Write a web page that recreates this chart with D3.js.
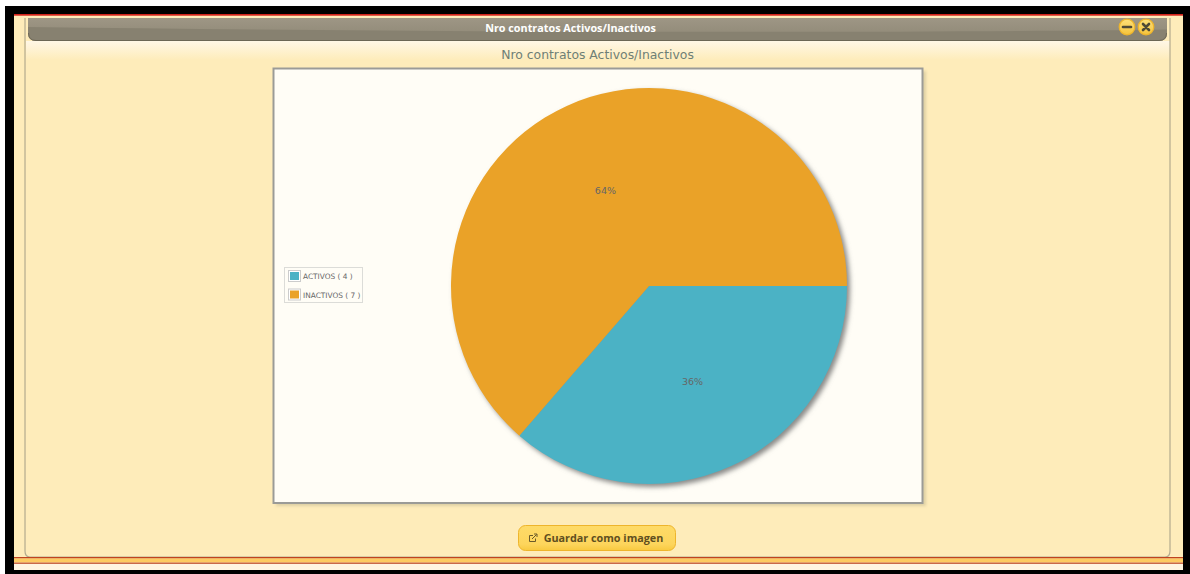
<!DOCTYPE html>
<html lang="es">
<head>
<meta charset="utf-8">
<title>Nro contratos Activos/Inactivos</title>
<script src="https://cdn.jsdelivr.net/npm/d3@7/dist/d3.min.js"></script>
<style>
html,body{margin:0;padding:0;background:#fff;overflow:hidden}
svg{display:block}
</style>
</head>
<body>
<svg id="chart" width="1190" height="574"></svg>
<script>
const categories = ["ACTIVOS", "INACTIVOS"];
const contractCounts = [4, 7];
const sliceColors = ["#4bb2c5", "#eaa228"];
const panelTitle = "Nro contratos Activos/Inactivos";
const buttonLabel = "Guardar como imagen";

const svg = d3.select("#chart");
const defs = svg.append("defs");
const fontBody = "'DejaVu Sans', Verdana, sans-serif";
const fontUi = "'Open Sans', 'DejaVu Sans', sans-serif";

function linear(id, stops, x1 = 0, y1 = 0, x2 = 0, y2 = 1) {
  const g = defs.append("linearGradient").attr("id", id)
    .attr("x1", x1).attr("y1", y1).attr("x2", x2).attr("y2", y2);
  stops.forEach(([o, c]) => g.append("stop").attr("offset", o).attr("stop-color", c));
}
linear("glow", [[0, "#fff7e6"], [1, "#feecba"]]);
linear("btn", [[0, "#fedb68"], [0.75, "#fdd55c"], [1, "#f8c93f"]]);
linear("knob", [[0, "#fde07a"], [1, "#f5c33b"]]);
linear("sheen", [[0, "#9e9685"], [1, "#948d7b"]]);
defs.append("filter").attr("id", "soft").attr("x", "-10%").attr("y", "-10%").attr("width", "120%").attr("height", "120%")
  .append("feGaussianBlur").attr("stdDeviation", 1.6);
defs.append("filter").attr("id", "pieBlur").attr("x", "-10%").attr("y", "-10%").attr("width", "120%").attr("height", "120%")
  .append("feGaussianBlur").attr("stdDeviation", 2.4);

// page frame and panel ground
svg.append("rect").attr("x", 5).attr("y", 6).attr("width", 1185).attr("height", 568).attr("fill", "#000");
svg.append("rect").attr("x", 14).attr("y", 14).attr("width", 1169).attr("height", 556).attr("fill", "#feecba");
svg.append("rect").attr("x", 14).attr("y", 14).attr("width", 1169).attr("height", 1.7).attr("fill", "#d2231c");
svg.append("rect").attr("x", 26).attr("y", 41).attr("width", 1144).attr("height", 19).attr("fill", "url(#glow)");

// inner window outline
svg.append("path")
  .attr("d", "M25,18V551Q25,557 30,557H1165Q1170,557 1170,551V18")
  .attr("fill", "none").attr("stroke", "#b3ab8e").attr("stroke-width", 1.2);

// bottom stripes
svg.append("rect").attr("x", 14).attr("y", 557).attr("width", 1169).attr("height", 1.5).attr("fill", "#c0441f");
svg.append("rect").attr("x", 14).attr("y", 558.5).attr("width", 1169).attr("height", 4).attr("fill", "#fdcb62");
svg.append("rect").attr("x", 14).attr("y", 562.5).attr("width", 1169).attr("height", 1.5).attr("fill", "#c9694a");
svg.append("rect").attr("x", 14).attr("y", 564).attr("width", 1169).attr("height", 6).attr("fill", "#fff5e2");

// title bar with its slanted sheen
svg.append("path")
  .attr("d", "M28,18H1167V33Q1167,41 1159,41H36Q28,41 28,33Z")
  .attr("fill", "#878170");
svg.append("path")
  .attr("d", "M28,18H1167V29.5C900,33 500,33 28,27Z")
  .attr("fill", "url(#sheen)");
svg.append("path")
  .attr("d", "M28.5,33Q28.5,40.5 36,40.5H1159Q1166.5,40.5 1166.5,33")
  .attr("fill", "none").attr("stroke", "#6b6655").attr("stroke-width", 1);
svg.append("text").attr("x", 570.5).attr("y", 32).attr("text-anchor", "middle")
  .attr("font-family", fontUi).attr("font-weight", 700).attr("font-size", 10.8)
  .attr("fill", "#fff").text(panelTitle);

// minimise and close knobs
[[1127, "M-4,0H4"], [1146, "M-3,-3L3,3M3,-3L-3,3"]].forEach(([x, glyph]) => {
  const k = svg.append("g").attr("transform", `translate(${x},27)`);
  k.append("circle").attr("r", 7.8).attr("fill", "url(#knob)").attr("stroke", "#eeb52c").attr("stroke-width", 1.2);
  k.append("path").attr("d", glyph).attr("stroke", "#4f4a36").attr("stroke-width", 2.6)
    .attr("stroke-linecap", "round").attr("fill", "none");
});

// chart heading
svg.append("text").attr("x", 597.5).attr("y", 58.5).attr("text-anchor", "middle")
  .attr("font-family", fontBody).attr("font-size", 12.4).attr("fill", "#6f7f76").text(panelTitle);

// plot box
svg.append("rect").attr("x", 276).attr("y", 71).attr("width", 650).attr("height", 435)
  .attr("fill", "#c9bd96").attr("opacity", 0.6).attr("filter", "url(#soft)");
svg.append("rect").attr("x", 273.5).attr("y", 68.5).attr("width", 649).attr("height", 434.5)
  .attr("fill", "#fffdf6").attr("stroke", "#9b9b97").attr("stroke-width", 2);

// pie, clockwise from three o'clock
const cx = 649, cy = 286, radius = 198;
const pie = d3.pie().sort(null).startAngle(Math.PI / 2).endAngle(Math.PI * 2.5);
const arcs = pie(contractCounts);
const arc = d3.arc().innerRadius(0).outerRadius(radius);
const labelArc = d3.arc().innerRadius(radius * 0.53).outerRadius(radius * 0.53);
const total = d3.sum(contractCounts);
const plot = svg.append("g").attr("transform", `translate(${cx},${cy})`);

// blurred offset copy of the slices as a drop shadow
plot.append("g").attr("transform", "translate(3,3)").attr("filter", "url(#pieBlur)")
  .selectAll("path").data(arcs).join("path")
  .attr("d", arc).attr("fill", "#8a8a88");
plot.selectAll("path.slice").data(arcs).join("path")
  .attr("class", "slice").attr("d", arc).attr("fill", (d, i) => sliceColors[i]);
plot.selectAll("text.pct").data(arcs).join("text")
  .attr("class", "pct")
  .attr("transform", d => `translate(${labelArc.centroid(d)})`)
  .attr("text-anchor", "middle").attr("dy", "0.35em")
  .attr("font-family", fontBody).attr("font-size", 9.5).attr("fill", "#666")
  .text(d => `${Math.round(d.value / total * 100)}%`);

// legend
const legend = svg.append("g");
legend.append("rect").attr("x", 284.5).attr("y", 267.5).attr("width", 78).attr("height", 35)
  .attr("fill", "#fffdf6").attr("stroke", "#dcdcd8");
categories.forEach((name, i) => {
  const y = 270.5 + i * 18.5;
  legend.append("rect").attr("x", 288.5).attr("y", y).attr("width", 12).attr("height", 11)
    .attr("fill", "#fff").attr("stroke", "#ccc");
  legend.append("rect").attr("x", 290).attr("y", y + 1.5).attr("width", 9).attr("height", 8)
    .attr("fill", sliceColors[i]);
  legend.append("text").attr("x", 303).attr("y", y + 8.5)
    .attr("font-family", fontBody).attr("font-size", 7.4).attr("fill", "#666")
    .text(`${name} ( ${contractCounts[i]} )`);
});

// export button
const button = svg.append("g");
button.append("rect").attr("x", 518.5).attr("y", 525.5).attr("width", 157).attr("height", 25).attr("rx", 7)
  .attr("fill", "url(#btn)").attr("stroke", "#eeb52c");
button.append("path")
  .attr("d", "M533,535.5H529.5V541.5H535.5V538.5M532,539L536.5,534.5M534,534H537V537")
  .attr("fill", "none").attr("stroke", "#6a5a2a").attr("stroke-width", 1);
button.append("text").attr("x", 603.5).attr("y", 542).attr("text-anchor", "middle")
  .attr("font-family", fontUi).attr("font-weight", 700).attr("font-size", 10.8)
  .attr("fill", "#5f4f1f").text(buttonLabel);
</script>
</body>
</html>
